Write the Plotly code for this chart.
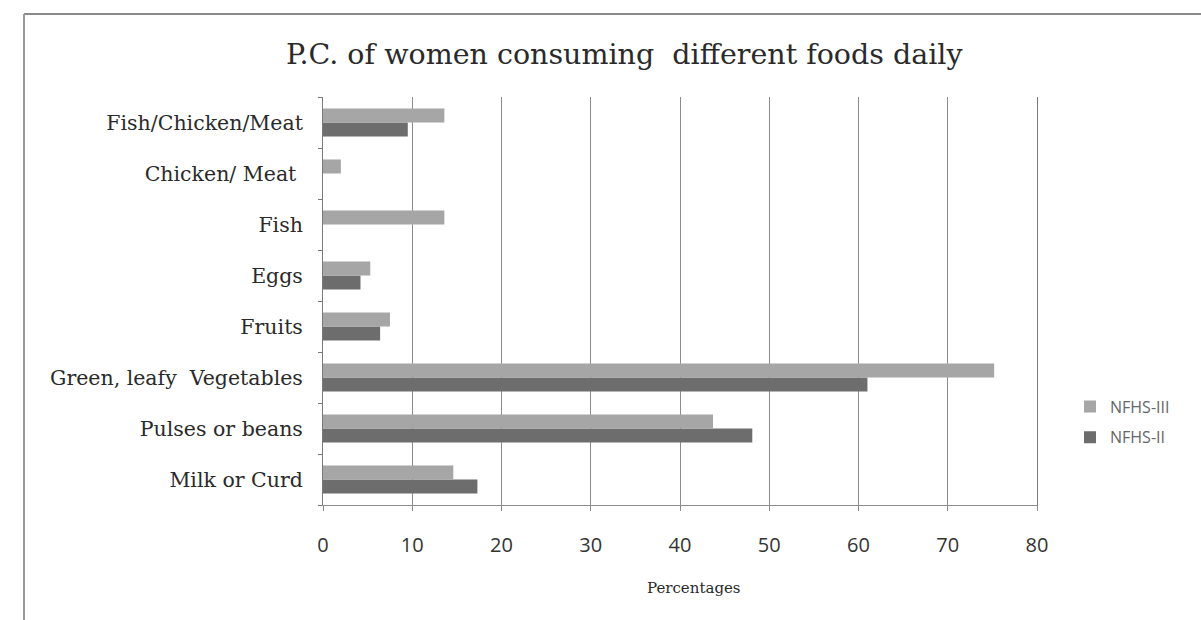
import plotly.graph_objects as go

# Food groups, listed bottom to top
categories = [
    "Milk or Curd",
    "Pulses or beans",
    "Green, leafy  Vegetables",
    "Fruits",
    "Eggs",
    "Fish",
    "Chicken/ Meat ",
    "Fish/Chicken/Meat",
]

# Percentage of women consuming each food daily
nfhs_iii = [14.6, 43.7, 75.2, 7.5, 5.3, 13.6, 2.0, 13.6]
nfhs_ii = [17.3, 48.1, 61.0, 6.4, 4.2, None, None, 9.5]

x_ticks = [0, 10, 20, 30, 40, 50, 60, 70, 80]

W, H = 1201, 620
L, R, T, B = 323, 164, 97, 115
PW, PH = W - L - R, H - T - B


def px_to_paper(px, py):
    return (px - L) / PW, (H - B - py) / PH


SERIF = "DejaVu Serif, Liberation Serif, serif"
SANS = "Open Sans, Lato, sans-serif"

fig = go.Figure()
fig.add_trace(go.Bar(
    y=categories, x=nfhs_ii, name="NFHS-II", orientation="h",
    legendgroup="ii", legendrank=2,
    marker=dict(color="#6d6d6d", line=dict(width=0)),
))
fig.add_trace(go.Bar(
    y=categories, x=nfhs_iii, name="NFHS-III", orientation="h",
    legendgroup="iii", legendrank=1,
    marker=dict(color="#a6a6a6", line=dict(width=0)),
))

# outer frame of the chart block
x0, y0 = px_to_paper(24, 14)
x1, _ = px_to_paper(1210, 14)
_, y1 = px_to_paper(24, 630)
shapes = [
    dict(type="line", xref="paper", yref="paper", x0=x0, y0=y0, x1=x1, y1=y0,
         line=dict(color="#8a8a8a", width=2)),
    dict(type="line", xref="paper", yref="paper", x0=x0, y0=y0, x1=x0, y1=y1,
         line=dict(color="#9a9a9a", width=2)),
]

tx, ty = px_to_paper(624, 55)
px_, py_ = px_to_paper(694, 588)
annotations = [
    dict(text="P.C. of women consuming  different foods daily", xref="paper",
         yref="paper", x=tx, y=ty, showarrow=False, xanchor="center",
         yanchor="middle", font=dict(family=SERIF, size=28.5, color="#2a2a2a")),
    dict(text="Percentages", xref="paper", yref="paper", x=px_, y=py_,
         showarrow=False, xanchor="center", yanchor="middle",
         font=dict(family=SERIF, size=15, color="#2a2a2a")),
]

lx, ly = px_to_paper(1070, 422)

fig.update_layout(
    width=W, height=H,
    margin=dict(l=L, r=R, t=T, b=B),
    paper_bgcolor="white", plot_bgcolor="white",
    barmode="group", bargap=0.45, bargroupgap=0.0,
    showlegend=True,
    legend=dict(x=lx, y=ly, xanchor="left", yanchor="middle",
                traceorder="grouped",
                font=dict(family=SANS, size=16, color="#666"),
                itemwidth=30, tracegroupgap=7, bgcolor="rgba(0,0,0,0)"),
    xaxis=dict(range=[0, 80], tickvals=x_ticks, showgrid=True,
               gridcolor="#8c8c8c", gridwidth=1, zeroline=False,
               showline=True, linecolor="#8c8c8c", linewidth=1, mirror=False,
               ticks="outside", ticklen=5, tickcolor="#8c8c8c",
               ticklabelstandoff=17,
               tickfont=dict(family=SANS, size=20, color="#333"),
               fixedrange=True),
    yaxis=dict(type="category", categoryorder="array", categoryarray=categories,
               showgrid=False, zeroline=False, showline=True,
               linecolor="#7a7a7a", linewidth=1, mirror=True,
               ticks="outside", ticklen=4, tickcolor="#7a7a7a",
               tickson="boundaries",
               tickfont=dict(family=SERIF, size=20.5, color="#2a2a2a"),
               ticklabelstandoff=15, fixedrange=True),
    shapes=shapes,
    annotations=annotations,
)

fig.write_html("out.html")
